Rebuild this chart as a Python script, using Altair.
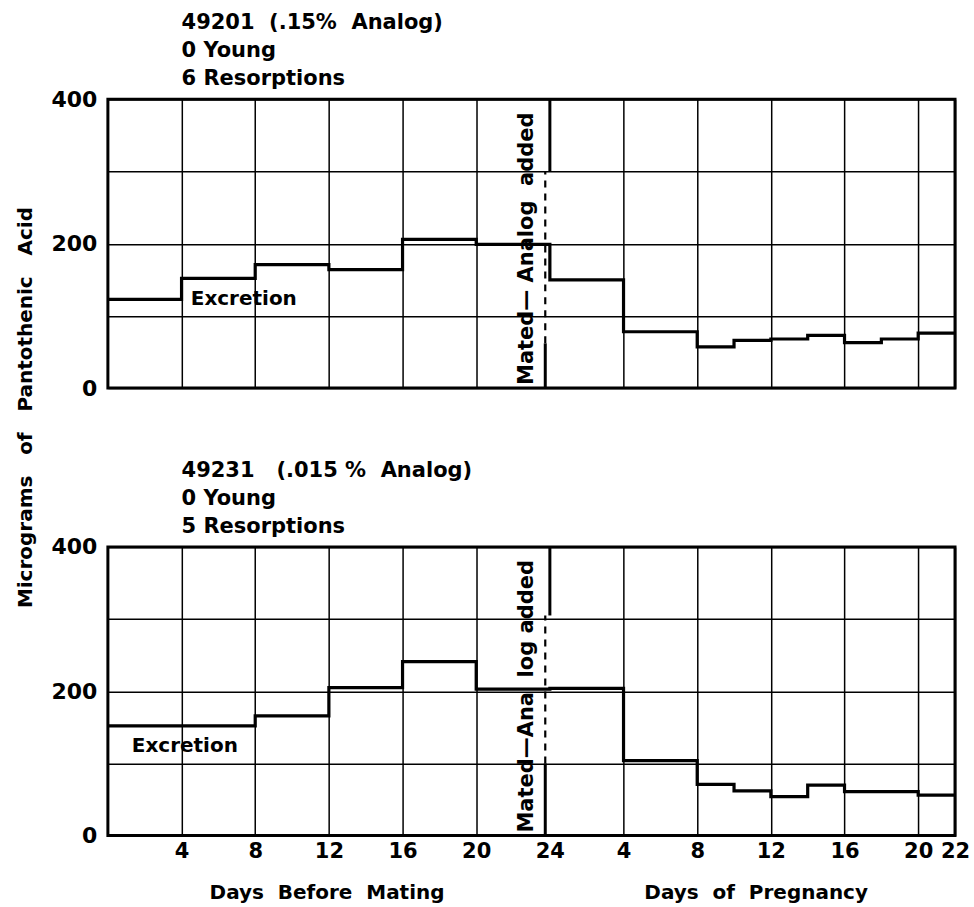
import altair as alt
import pandas as pd

NB = "\u00a0"
FONT = "DejaVu Sans"

# Continuous day axis: 0-24 = days before mating, 24-46 = days of pregnancy 0-22
day_edges = [0, 4, 8, 12, 16, 20, 24, 28, 32, 34, 36, 38, 40, 42, 44, 46]
top_values = [123, 152, 171, 164, 206, 199, 150, 78, 57, 66, 68, 73, 63, 68, 76, 76]
bottom_values = [152, 152, 166, 205, 241, 203, 204, 104, 71, 62, 54, 70, 61, 61, 56, 56]

x_tick_values = [4, 8, 12, 16, 20, 24, 28, 32, 36, 40, 44, 46]
y_tick_values = [0, 100, 200, 300, 400]

top_title = [f"49201{NB}{NB}(.15%{NB}{NB}Analog)", "0 Young", "6 Resorptions"]
bottom_title = [f"49231{NB}{NB}{NB}(.015{NB}%{NB}{NB}Analog)", "0 Young", "5 Resorptions"]

top_mated_text = f"Mated—{NB}Analog{NB}{NB}added"
bottom_mated_text = f"Mated—Ana{NB}{NB}log{NB}added"

y_title = f"Micrograms{NB}{NB}{NB}of{NB}{NB}{NB}Pantothenic{NB}{NB}{NB}Acid"
x_titles = [f"Days{NB}{NB}Before{NB}{NB}Mating", f"Days{NB}{NB}of{NB}{NB}Pregnancy"]
x_title_days = [11.9, 35.2]

# marker segments at mating: (x, y, y2, dashed)
top_marker = [(24, 300, 400, 0), (23.75, 62, 300, 1), (23.75, 0, 62, 0)]
bottom_marker = [(24, 305, 400, 0), (23.75, 100, 305, 1), (23.75, 0, 100, 0)]

W, H = 848, 289


def panel(values, title_lines, exc_x, exc_y, mated_text, marker, show_x):
    df = pd.DataFrame({"day": day_edges, "value": values})
    x_axis = alt.Axis(
        values=x_tick_values,
        labels=show_x,
        labelExpr="datum.value > 24 ? datum.value - 24 : datum.value",
        labelFlush=False,
        labelOverlap=False,
        labelFontSize=21,
        labelPadding=5,
        ticks=False,
        domain=False,
        grid=True,
        gridColor="black",
        gridWidth=1.5,
        gridOpacity=alt.condition("datum.value == 24", alt.value(0), alt.value(1)),
        title=None,
    )
    y_kwargs = dict(
        values=y_tick_values,
        labelExpr="datum.value % 200 == 0 ? datum.label : ''",
        labelFontSize=22,
        labelPadding=11,
        labelOverlap=False,
        ticks=False,
        domain=False,
        grid=True,
        gridColor="black",
        gridWidth=1.5,
    )
    if show_x:
        y_axis = alt.Axis(title=None, **y_kwargs)
    else:
        y_axis = alt.Axis(
            title=y_title,
            titleAngle=270,
            titleX=-82,
            titleY=308,
            titleAlign="center",
            titleBaseline="middle",
            titleFontSize=20,
            **y_kwargs,
        )
    xs = alt.X("day:Q", scale=alt.Scale(domain=[0, 46], nice=False, zero=False), axis=x_axis)
    ys = alt.Y("value:Q", scale=alt.Scale(domain=[0, 400], nice=False), axis=y_axis)

    line = alt.Chart(df).mark_line(
        interpolate="step-after", color="black", strokeWidth=3.2
    ).encode(x=xs, y=ys)

    mk = pd.DataFrame(marker, columns=["day", "value", "value2", "dashed"])
    solid = alt.Chart(mk[mk.dashed == 0]).mark_rule(color="black", strokeWidth=3).encode(
        x=xs, y=ys, y2="value2:Q"
    )
    dashed = alt.Chart(mk[mk.dashed == 1]).mark_rule(
        color="black", strokeWidth=2.2, strokeDash=[7, 6]
    ).encode(x=xs, y=ys, y2="value2:Q")

    mated = alt.Chart(pd.DataFrame({"t": [mated_text]})).mark_text(
        angle=270, align="center", baseline="middle", fontSize=21,
        font=FONT, fontWeight="bold", color="black",
    ).encode(x=alt.datum(22.75), y=alt.datum(193), text="t:N")

    exc = alt.Chart(pd.DataFrame({"t": ["Excretion"]})).mark_text(
        align="left", baseline="middle", fontSize=20,
        font=FONT, fontWeight="bold", color="black",
    ).encode(x=alt.datum(exc_x), y=alt.datum(exc_y), text="t:N")

    ttl = alt.Chart(pd.DataFrame({"t": ["\n".join(title_lines)]})).mark_text(
        align="left", baseline="top", fontSize=21, lineHeight=28, lineBreak="\n",
        font=FONT, fontWeight="bold", color="black",
    ).encode(x=alt.datum(4.0), y=alt.value(-87), text="t:N")

    layers = [line, solid, dashed, mated, exc, ttl]
    if show_x:
        xt = alt.Chart(
            pd.DataFrame({"day": x_title_days, "t": x_titles})
        ).mark_text(
            align="center", baseline="middle", fontSize=20,
            font=FONT, fontWeight="bold", color="black",
        ).encode(x=xs, y=alt.value(H + 57), text="t:N")
        layers.append(xt)
    return alt.layer(*layers).properties(width=W, height=H)


top = panel(top_values, top_title, 4.5, 123, top_mated_text, top_marker, False)
bottom = panel(bottom_values, bottom_title, 1.3, 124, bottom_mated_text, bottom_marker, True)

chart = alt.vconcat(top, bottom, spacing=159, bounds="flush").properties(
    padding={"left": 14, "top": 10, "right": 2, "bottom": 5},
    background="white",
).configure_view(
    stroke="black", strokeWidth=3
).configure_axis(
    labelFont=FONT, labelFontWeight="bold", labelColor="black",
    titleFont=FONT, titleFontWeight="bold", titleColor="black",
)

chart.save("out.html", embed_options={"renderer": "svg", "actions": False})
